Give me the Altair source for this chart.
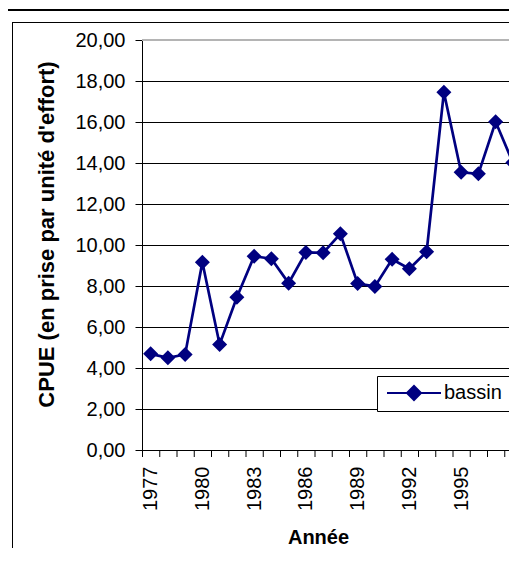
import altair as alt
import pandas as pd

# ---- data ----
years = list(range(1977, 1999))
cpue = [4.69, 4.50, 4.66, 9.16, 5.15, 7.45, 9.45, 9.33, 8.14, 9.64, 9.62, 10.55,
        8.12, 7.98, 9.30, 8.84, 9.67, 17.45, 13.55, 13.47, 16.01, 14.02]
series = ["bassin"] * len(years)
y_ticks = [0, 2, 4, 6, 8, 10, 12, 14, 16, 18, 20]
grid_values = [2, 4, 6, 8, 10, 12, 14, 16, 18]
label_years = [1977, 1980, 1983, 1986, 1989, 1992, 1995, 1998]
tick_positions = [y - 0.5 for y in years] + [years[-1] + 0.5]

NAVY = "#000080"
W = 367
H = 410
PX_PER_YEAR = 17.25
x_domain = [1976.5, 1976.5 + W / PX_PER_YEAR]

df = pd.DataFrame({"Année": years, "CPUE": cpue, "serie": series})
grid_df = pd.DataFrame({"CPUE": grid_values})
top_df = pd.DataFrame({"CPUE": [y_ticks[-1]]})
tick_df = pd.DataFrame({"Année": tick_positions})

xscale = alt.Scale(domain=x_domain, nice=False, zero=False)
yscale = alt.Scale(domain=[y_ticks[0], y_ticks[-1]], nice=False)

x_axis = alt.Axis(values=label_years, format="d", labelAngle=270,
                  labelFontSize=20, labelColor="black", labelPadding=16,
                  labelFlush=False, labelOverlap=False,
                  tickSize=0, domainColor="black", domainWidth=1,
                  grid=False, title="Année", titleFontSize=20,
                  titleFontWeight="bold", titleColor="black",
                  titleX=176, titleY=87, titleAlign="center",
                  titleBaseline="middle")
y_axis = alt.Axis(values=y_ticks,
                  labelExpr="replace(format(datum.value, '.2f'), '.', ',')",
                  labelFontSize=20, labelColor="black", labelPadding=10,
                  tickSize=7, tickColor="black", domainColor="black",
                  domainWidth=1, grid=False,
                  title="CPUE (en prise par unité d'effort)",
                  titleFontSize=22, titleFontWeight="bold",
                  titleColor="black", titleAngle=270,
                  titleX=-96, titleY=194, titleAlign="center",
                  titleBaseline="middle")

grid = alt.Chart(grid_df).mark_rule(color="black", strokeWidth=1, yOffset=0.5).encode(
    y=alt.Y("CPUE:Q", scale=yscale, axis=y_axis),
    x=alt.value(0), x2=alt.value(W),
)
top = alt.Chart(top_df).mark_rule(color="#b4b4b4", strokeWidth=2).encode(
    y=alt.Y("CPUE:Q", scale=yscale, axis=y_axis),
    x=alt.value(0), x2=alt.value(W),
)
xticks = alt.Chart(tick_df).mark_rule(color="black", strokeWidth=1, xOffset=0.5).encode(
    x=alt.X("Année:Q", scale=xscale, axis=x_axis),
    y=alt.value(H), y2=alt.value(H + 7),
)

# legend symbol: a line segment with a diamond in the middle
legend_path = "M-3.86,0L3.86,0M-1,0L0,-1L1,0L0,1Z"

line = alt.Chart(df).mark_line(strokeWidth=2.7).encode(
    x=alt.X("Année:Q", scale=xscale, axis=x_axis),
    y=alt.Y("CPUE:Q", scale=yscale, axis=y_axis),
    color=alt.Color("serie:N", scale=alt.Scale(range=[NAVY]),
                    legend=alt.Legend(orient="none", legendX=235, legendY=336,
                                      title=None, symbolType=legend_path,
                                      symbolSize=196, symbolStrokeWidth=2,
                                      symbolFillColor=NAVY, symbolStrokeColor=NAVY,
                                      symbolOffset=20,
                                      labelFontSize=20, labelColor="black",
                                      labelOffset=20, strokeColor="black",
                                      fillColor="white", padding=7)),
)

points = alt.Chart(df).mark_point(shape="diamond", filled=True, size=225,
                                  opacity=1, color=NAVY, strokeWidth=0).encode(
    x=alt.X("Année:Q", scale=xscale, axis=x_axis),
    y=alt.Y("CPUE:Q", scale=yscale, axis=y_axis),
)

deco_df = pd.DataFrame({"k": [0]})
title_line = alt.Chart(deco_df).mark_rule(color="black", strokeWidth=2).encode(
    x=alt.value(-142), x2=alt.value(W + 10), y=alt.value(-30),
)
border_top = alt.Chart(deco_df).mark_rule(color="black", strokeWidth=1, yOffset=0.5).encode(
    x=alt.value(-130), x2=alt.value(W + 10), y=alt.value(-18),
)
border_left = alt.Chart(deco_df).mark_rule(color="black", strokeWidth=1, xOffset=0.5).encode(
    x=alt.value(-130), y=alt.value(-18), y2=alt.value(H + 120),
)

chart = alt.layer(grid, top, xticks, line, points, title_line, border_top, border_left).properties(
    width=W, height=H,
    autosize=alt.AutoSizeParams(type="none"),
    padding={"left": 134, "top": 32, "right": 0, "bottom": 98},
    background="white",
).configure_view(stroke=None).configure(font="Liberation Sans")

chart.save("out.html", embed_options={"renderer": "svg", "actions": False})
